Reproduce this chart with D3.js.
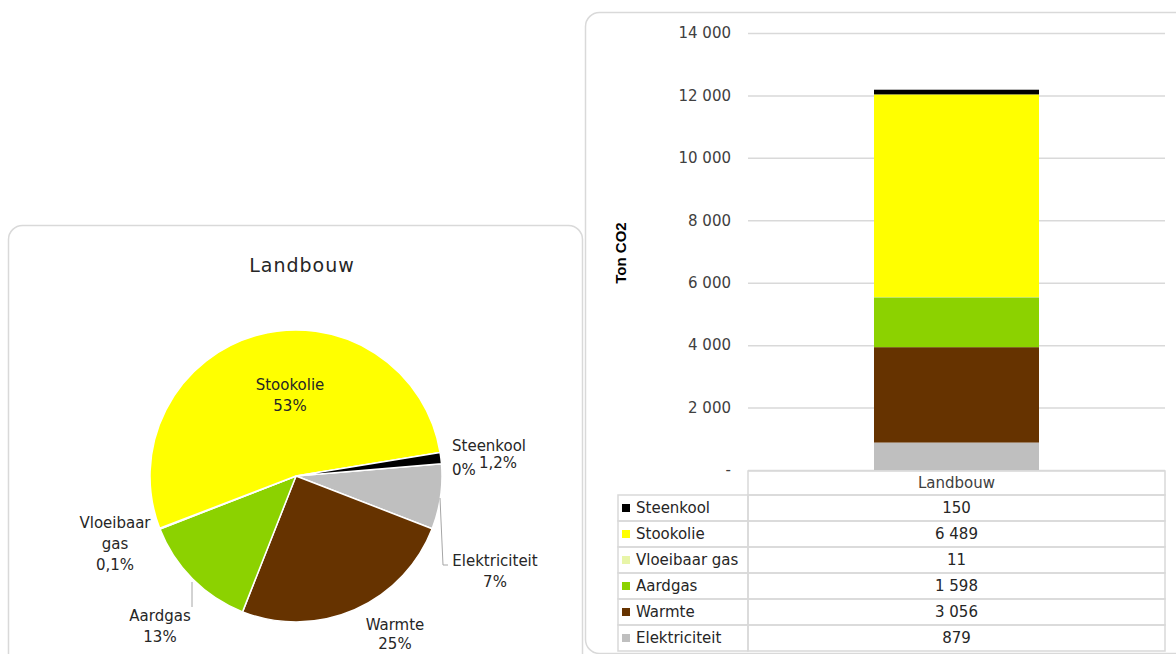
<!DOCTYPE html>
<html>
<head>
<meta charset="utf-8">
<script src="https://cdn.jsdelivr.net/npm/d3@7/dist/d3.min.js"></script>
<style>
  html, body { margin: 0; padding: 0; background: #fff; }
  svg { display: block; }
  text { font-family: "DejaVu Sans", "Lato", sans-serif; }
</style>
</head>
<body>
<svg id="chart" width="1176" height="654"></svg>
<script>
// Energy sources and CO2 emissions (ton) for the agriculture sector
const sector = "Landbouw";
const sources = ["Steenkool", "Stookolie", "Vloeibaar gas", "Aardgas", "Warmte", "Elektriciteit"];
const emissions = [150, 6489, 11, 1598, 3056, 879];
const sourceColors = ["#000000", "#FFFF00", "#E8F5A8", "#8CD200", "#663300", "#BFBFBF"];
const valueLabels = ["150", "6 489", "11", "1 598", "3 056", "879"];
const pieShares = ["0%", "53%", "0,1%", "13%", "25%", "7%"];
const steenkoolShareNote = "1,2%";
const yTicks = [0, 2000, 4000, 6000, 8000, 10000, 12000, 14000];
const yAxisTitle = "Ton CO2";

const svg = d3.select("#chart");
const textColor = "#262626";
const gridColor = "#D9D9D9";
const fontMain = '"DejaVu Sans", "Lato", sans-serif';

// ---------- panels ----------
svg.append("rect")
  .attr("x", 8.5).attr("y", 225.5).attr("width", 574).attr("height", 470)
  .attr("rx", 14).attr("fill", "#fff").attr("stroke", gridColor).attr("stroke-width", 1.5);
svg.append("rect")
  .attr("x", 585.5).attr("y", 12.5).attr("width", 620).attr("height", 641)
  .attr("rx", 14).attr("fill", "#fff").attr("stroke", gridColor).attr("stroke-width", 1.5);

// ---------- pie ----------
const pieG = svg.append("g");
pieG.append("text")
  .attr("x", 302).attr("y", 265).attr("dy", "0.35em")
  .attr("text-anchor", "middle").attr("font-size", 19).attr("letter-spacing", 1)
  .attr("fill", textColor)
  .text(sector);

const cx = 296, cy = 476, radius = 146;
const records = sources.map((s, i) => ({ name: s, value: emissions[i], color: sourceColors[i], share: pieShares[i] }));
const start = 85.2 * Math.PI / 180;
const pie = d3.pie().sort(null).value(d => d.value)
  .startAngle(start).endAngle(start + 2 * Math.PI);
const arcs = pie(records.slice().reverse());
const arc = d3.arc().innerRadius(0).outerRadius(radius);

pieG.append("g").attr("transform", `translate(${cx},${cy})`)
  .selectAll("path").data(arcs).join("path")
  .attr("d", arc)
  .attr("fill", d => d.data.color)
  .attr("stroke", "#fff").attr("stroke-width", 1.5).attr("stroke-linejoin", "round");

// leader lines
const leader = d3.line();
pieG.append("path")
  .attr("d", leader([[440, 498], [443, 565], [448, 565]]))
  .attr("fill", "none").attr("stroke", "#A6A6A6").attr("stroke-width", 1);
pieG.append("path")
  .attr("d", leader([[192, 582], [192, 607]]))
  .attr("fill", "none").attr("stroke", "#A6A6A6").attr("stroke-width", 1);

// label lines per slice
const labelSpecs = {
  "Stookolie":     { x: 290, y: 385, anchor: "middle", gap: 21, lines: ["Stookolie", null] },
  "Steenkool":     { x: 452, y: 446, anchor: "start",  gap: 24, lines: ["Steenkool", null] },
  "Elektriciteit": { x: 495, y: 561, anchor: "middle", gap: 21, lines: ["Elektriciteit", null] },
  "Warmte":        { x: 395, y: 625, anchor: "middle", gap: 19, lines: ["Warmte", null] },
  "Aardgas":       { x: 160, y: 616, anchor: "middle", gap: 21, lines: ["Aardgas", null] },
  "Vloeibaar gas": { x: 115, y: 523, anchor: "middle", gap: 21, lines: ["Vloeibaar", "gas", null] }
};
records.forEach(r => {
  const spec = labelSpecs[r.name];
  const t = pieG.append("text")
    .attr("text-anchor", spec.anchor).attr("font-size", 15).attr("fill", textColor);
  spec.lines.forEach((ln, i) => {
    t.append("tspan")
      .attr("x", spec.x).attr("y", spec.y + i * spec.gap).attr("dy", "0.35em")
      .text(ln === null ? r.share : ln);
  });
});
pieG.append("text")
  .attr("x", 479).attr("y", 463).attr("dy", "0.35em")
  .attr("font-size", 15).attr("fill", textColor)
  .text(steenkoolShareNote);

// ---------- stacked bar ----------
const plotLeft = 748, plotRight = 1165, plotTop = 33, plotBottom = 470;
const y = d3.scaleLinear().domain([0, 14000]).range([plotBottom, plotTop]);
const x = d3.scaleBand().domain([sector]).range([plotLeft, plotRight])
  .paddingInner(0.433).paddingOuter(0.433);

const fmt = v => v === 0 ? "-" : d3.format(",")(v).replace(/,/g, " ");
const yAxis = d3.axisLeft(y).tickValues(yTicks).tickFormat(fmt)
  .tickSize(-(plotRight - plotLeft)).tickPadding(17);
const axisG = svg.append("g").attr("transform", `translate(${plotLeft},0)`).call(yAxis);
axisG.select(".domain").remove();
axisG.selectAll(".tick line").attr("stroke", gridColor).attr("stroke-width", 1.5);
axisG.selectAll(".tick text")
  .attr("font-size", 15).attr("fill", "#404040")
  .style("font-family", fontMain);

svg.append("text")
  .attr("transform", `translate(621,253) rotate(-90)`)
  .attr("text-anchor", "middle").attr("dy", "0.35em")
  .attr("font-size", 15).attr("font-weight", "bold").attr("fill", "#000")
  .style("font-family", '"Liberation Sans", Arial, sans-serif')
  .text(yAxisTitle);

// stack from bottom: Elektriciteit up to Steenkool
const stackOrder = sources.slice().reverse();
const row = {};
sources.forEach((s, i) => { row[s] = emissions[i]; });
const stacked = d3.stack().keys(stackOrder)([row]);
svg.append("g").selectAll("rect").data(stacked).join("rect")
  .attr("x", x(sector))
  .attr("width", x.bandwidth())
  .attr("y", d => y(d[0][1]))
  .attr("height", d => y(d[0][0]) - y(d[0][1]))
  .attr("fill", d => sourceColors[sources.indexOf(d.key)]);

// ---------- data table ----------
const tableLeft = 618, headerTop = 471, headerBottom = 495, rowH = 26;
const tbl = svg.append("g");
const rowTop = i => headerBottom + i * rowH;

// header cell
tbl.append("rect").attr("x", plotLeft).attr("y", headerTop)
  .attr("width", plotRight - plotLeft).attr("height", headerBottom - headerTop)
  .attr("fill", "none").attr("stroke", gridColor).attr("stroke-width", 1.5);
tbl.append("text").attr("x", (plotLeft + plotRight) / 2).attr("y", (headerTop + headerBottom) / 2)
  .attr("dy", "0.35em").attr("text-anchor", "middle")
  .attr("font-size", 15).attr("fill", "#404040").text(sector);

const rows = tbl.selectAll("g.row").data(records).join("g").attr("class", "row");
rows.append("rect")
  .attr("x", tableLeft).attr("y", (d, i) => rowTop(i))
  .attr("width", plotLeft - tableLeft).attr("height", rowH)
  .attr("fill", "none").attr("stroke", gridColor).attr("stroke-width", 1.5);
rows.append("rect")
  .attr("x", plotLeft).attr("y", (d, i) => rowTop(i))
  .attr("width", plotRight - plotLeft).attr("height", rowH)
  .attr("fill", "none").attr("stroke", gridColor).attr("stroke-width", 1.5);
rows.append("rect")
  .attr("x", 622).attr("y", (d, i) => rowTop(i) + rowH / 2 - 4)
  .attr("width", 8).attr("height", 8)
  .attr("fill", d => d.color);
rows.append("text")
  .attr("x", 636).attr("y", (d, i) => rowTop(i) + rowH / 2).attr("dy", "0.35em")
  .attr("font-size", 15).attr("fill", "#262626").text(d => d.name);
rows.append("text")
  .attr("x", (plotLeft + plotRight) / 2).attr("y", (d, i) => rowTop(i) + rowH / 2).attr("dy", "0.35em")
  .attr("text-anchor", "middle")
  .attr("font-size", 15).attr("fill", "#262626").text((d, i) => valueLabels[i]);
</script>
</body>
</html>
